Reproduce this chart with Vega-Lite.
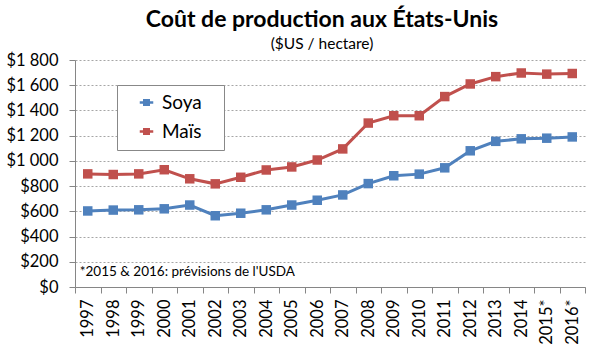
{
  "$schema": "https://vega.github.io/schema/vega-lite/v6.json",
  "width": 510,
  "height": 227,
  "autosize": {"type": "none"},
  "padding": {"left": 75, "top": 60, "right": 23, "bottom": 64},
  "background": "white",
  "config": {"font": "Lato", "view": {"stroke": null}},
  "title": {
    "text": "Coût de production aux États-Unis",
    "subtitle": "($US / hectare)",
    "fontSize": 23,
    "fontWeight": "bold",
    "subtitleFontSize": 15.5,
    "anchor": "middle",
    "dx": -8,
    "offset": 0,
    "subtitlePadding": 5,
    "color": "black",
    "subtitleColor": "black"
  },
  "datasets": {
    "costs": [
      {"year": "1997", "crop": "Soya", "cost": 603},
      {"year": "1998", "crop": "Soya", "cost": 610},
      {"year": "1999", "crop": "Soya", "cost": 612},
      {"year": "2000", "crop": "Soya", "cost": 620},
      {"year": "2001", "crop": "Soya", "cost": 650},
      {"year": "2002", "crop": "Soya", "cost": 565},
      {"year": "2003", "crop": "Soya", "cost": 585},
      {"year": "2004", "crop": "Soya", "cost": 612},
      {"year": "2005", "crop": "Soya", "cost": 650},
      {"year": "2006", "crop": "Soya", "cost": 688},
      {"year": "2007", "crop": "Soya", "cost": 730},
      {"year": "2008", "crop": "Soya", "cost": 820},
      {"year": "2009", "crop": "Soya", "cost": 882},
      {"year": "2010", "crop": "Soya", "cost": 895},
      {"year": "2011", "crop": "Soya", "cost": 945},
      {"year": "2012", "crop": "Soya", "cost": 1080},
      {"year": "2013", "crop": "Soya", "cost": 1155},
      {"year": "2014", "crop": "Soya", "cost": 1175},
      {"year": "2015*", "crop": "Soya", "cost": 1180},
      {"year": "2016*", "crop": "Soya", "cost": 1190},
      {"year": "1997", "crop": "Maïs", "cost": 897},
      {"year": "1998", "crop": "Maïs", "cost": 892},
      {"year": "1999", "crop": "Maïs", "cost": 897},
      {"year": "2000", "crop": "Maïs", "cost": 930},
      {"year": "2001", "crop": "Maïs", "cost": 858},
      {"year": "2002", "crop": "Maïs", "cost": 818},
      {"year": "2003", "crop": "Maïs", "cost": 870},
      {"year": "2004", "crop": "Maïs", "cost": 928},
      {"year": "2005", "crop": "Maïs", "cost": 952},
      {"year": "2006", "crop": "Maïs", "cost": 1007},
      {"year": "2007", "crop": "Maïs", "cost": 1095},
      {"year": "2008", "crop": "Maïs", "cost": 1300},
      {"year": "2009", "crop": "Maïs", "cost": 1358},
      {"year": "2010", "crop": "Maïs", "cost": 1358},
      {"year": "2011", "crop": "Maïs", "cost": 1510},
      {"year": "2012", "crop": "Maïs", "cost": 1610},
      {"year": "2013", "crop": "Maïs", "cost": 1668},
      {"year": "2014", "crop": "Maïs", "cost": 1697},
      {"year": "2015*", "crop": "Maïs", "cost": 1688},
      {"year": "2016*", "crop": "Maïs", "cost": 1693}
    ],
    "note": [
      {"year": "1997", "cost": 119, "label": "*2015 & 2016: prévisions de l'USDA"}
    ]
  },
  "encoding": {
    "x": {
      "field": "year",
      "type": "ordinal",
      "sort": null,
      "scale": {"paddingInner": 0, "paddingOuter": 0},
      "axis": {
        "title": null,
        "labelAngle": -90,
        "labelAlign": "right",
        "labelBaseline": "middle",
        "labelFontSize": 16.5,
        "labelColor": "black",
        "labelPadding": 6,
        "labelOverlap": false,
        "tickBand": "extent",
        "tickSize": 6,
        "tickColor": "#868686",
        "domainColor": "#868686",
        "grid": false
      }
    },
    "y": {
      "field": "cost",
      "type": "quantitative",
      "scale": {"domain": [0, 1800], "nice": false},
      "axis": {
        "title": null,
        "values": [0, 200, 400, 600, 800, 1000, 1200, 1400, 1600, 1800],
        "labelExpr": "'$' + replace(format(datum.value, ','), ',', ' ')",
        "labelFontSize": 16.5,
        "labelColor": "black",
        "labelPadding": 11,
        "labelOverlap": false,
        "tickSize": 6,
        "tickColor": "#868686",
        "domainColor": "#868686",
        "gridColor": "#a6a6a6",
        "gridDash": [2, 2]
      }
    }
  },
  "layer": [
    {
      "data": {"name": "costs"},
      "mark": {
        "type": "line",
        "strokeWidth": 3,
        "point": {"shape": "square", "filled": true, "size": 90, "opacity": 1}
      },
      "encoding": {
        "color": {
          "field": "crop",
          "type": "nominal",
          "scale": {"domain": ["Soya", "Maïs"], "range": ["#4F81BD", "#C0504D"]},
          "legend": {
            "title": null,
            "orient": "none",
            "legendX": 42,
            "legendY": 25,
            "padding": 8,
            "strokeColor": "#888888",
            "fillColor": "white",
            "labelFontSize": 19,
            "labelColor": "black",
            "labelExpr": "datum.label + '\u2800'",
            "labelLimit": 300,
            "rowPadding": 9,
            "symbolType": "M-1.5,0H1.5M-0.5,-0.5H0.5V0.5H-0.5Z",
            "symbolSize": 81,
            "symbolStrokeWidth": 2.5,
            "symbolOffset": 12,
            "labelOffset": 6,
            "encode": {"symbols": {"update": {"fill": {"scale": "color", "field": "value"}, "opacity": {"value": 1}}}}
          }
        }
      }
    },
    {
      "data": {"name": "note"},
      "mark": {"type": "text", "align": "left", "baseline": "middle", "dx": -8, "fontSize": 13.5, "color": "black"},
      "encoding": {
        "text": {"field": "label"}
      }
    }
  ]
}
